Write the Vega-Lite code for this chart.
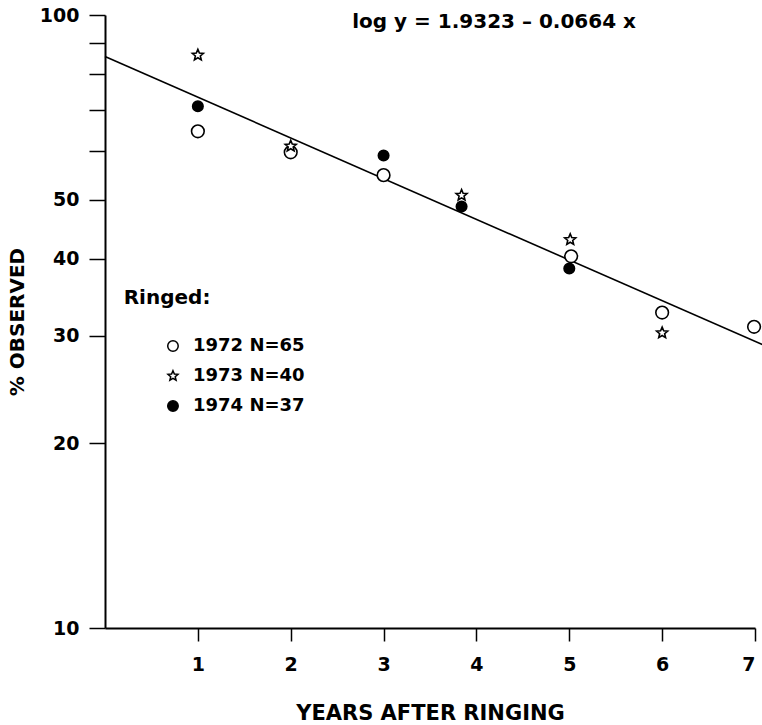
{
  "$schema": "https://vega.github.io/schema/vega-lite/v6.json",
  "autosize": {"type": "none"},
  "width": 650,
  "height": 613,
  "padding": {"left": 105, "top": 15, "right": 7, "bottom": 97},
  "background": "white",
  "config": {
    "view": {"stroke": null},
    "font": "DejaVu Sans",
    "text": {"font": "DejaVu Sans", "fontWeight": "bold", "fontSize": 18, "color": "black", "align": "left", "baseline": "middle"},
    "axis": {
      "grid": false,
      "domainColor": "black",
      "tickColor": "black",
      "labelColor": "black",
      "titleColor": "black",
      "labelFont": "DejaVu Sans",
      "titleFont": "DejaVu Sans",
      "labelFontWeight": "bold",
      "titleFontWeight": "bold"
    }
  },
  "datasets": {
    "points": [
      {"year": "1972", "years": 1, "pct": 64.6},
      {"year": "1972", "years": 2, "pct": 59.7},
      {"year": "1972", "years": 3, "pct": 54.8},
      {"year": "1972", "years": 5.02, "pct": 40.4},
      {"year": "1972", "years": 6, "pct": 32.7},
      {"year": "1972", "years": 6.99, "pct": 31.0},
      {"year": "1973", "years": 1, "pct": 86.0},
      {"year": "1973", "years": 2, "pct": 61.1},
      {"year": "1973", "years": 3.84, "pct": 50.8},
      {"year": "1973", "years": 5.01, "pct": 43.0},
      {"year": "1973", "years": 6, "pct": 30.3},
      {"year": "1974", "years": 1, "pct": 71.0},
      {"year": "1974", "years": 3, "pct": 59.0},
      {"year": "1974", "years": 3.84, "pct": 48.7},
      {"year": "1974", "years": 5, "pct": 38.6}
    ],
    "fit": [
      {"years": 0, "pct": 85.56},
      {"years": 7.08, "pct": 28.99}
    ],
    "eq": [
      {"label": "log y = 1.9323 – 0.0664  x", "years": 4.19, "pct": 97.4},
      {"label": "Ringed:", "years": 0.668, "pct": 34.54}
    ],
    "key": [
      {"year": "1972", "label": "1972      N=65", "years": 0.732, "tx": 0.948, "pct": 28.84},
      {"year": "1973", "label": "1973      N=40", "years": 0.732, "tx": 0.948, "pct": 25.77},
      {"year": "1974", "label": "1974      N=37", "years": 0.732, "tx": 0.948, "pct": 23.03}
    ]
  },
  "encoding": {
    "x": {
      "field": "years", "type": "quantitative",
      "scale": {"domain": [0, 7], "nice": false, "zero": false},
      "axis": {
        "title": "YEARS AFTER RINGING",
        "values": [1, 2, 3, 4, 5, 6, 7],
        "format": "d",
        "tickSize": 13, "tickWidth": 1.5, "domainWidth": 2,
        "labelFontSize": 19, "labelPadding": 14,
        "titleFontSize": 21, "titlePadding": 28
      }
    },
    "y": {
      "field": "pct", "type": "quantitative",
      "scale": {"type": "log", "domain": [10, 100], "nice": false},
      "axis": {
        "title": "% OBSERVED",
        "values": [10, 20, 30, 40, 50, 60, 70, 80, 90, 100],
        "labelExpr": "(datum.value >= 55 && datum.value <= 95) ? '' : datum.label",
        "format": "d",
        "tickSize": 16, "tickWidth": 1.5, "domainWidth": 2,
        "labelFontSize": 19, "labelPadding": 10,
        "titleFontSize": 20, "titlePadding": 12
      }
    },
    "shape": {
      "field": "year", "type": "nominal", "legend": null,
      "scale": {"domain": ["1972", "1973", "1974"], "range": ["circle", "M0,-1 L0.265,-0.364 L0.951,-0.309 L0.428,0.139 L0.588,0.809 L0,0.45 L-0.588,0.809 L-0.428,0.139 L-0.951,-0.309 L-0.265,-0.364 Z", "circle"]}
    },
    "fill": {
      "field": "year", "type": "nominal", "legend": null,
      "scale": {"domain": ["1972", "1973", "1974"], "range": ["white", "white", "black"]}
    }
  },
  "layer": [
    {
      "data": {"name": "fit"},
      "mark": {"type": "line", "color": "black", "strokeWidth": 1.6, "clip": false},
      "encoding": {"shape": null, "fill": null}
    },
    {
      "data": {"name": "points"},
      "mark": {"type": "point", "stroke": "black", "strokeWidth": 1.6, "opacity": 1},
      "encoding": {
        "size": {
          "field": "year", "type": "nominal", "legend": null,
          "scale": {"domain": ["1972", "1973", "1974"], "range": [160, 110, 230]}
        }
      }
    },
    {
      "data": {"name": "eq"},
      "mark": {"type": "text", "fontSize": 20, "align": "center"},
      "encoding": {"text": {"field": "label", "type": "nominal"}, "shape": null, "fill": null}
    },
    {
      "data": {"name": "key"},
      "mark": {"type": "point", "stroke": "black", "strokeWidth": 1.5, "opacity": 1, "size": 110}
    },
    {
      "data": {"name": "key"},
      "mark": {"type": "text"},
      "encoding": {
        "x": {"field": "tx", "type": "quantitative"},
        "text": {"field": "label", "type": "nominal"},
        "shape": null,
        "fill": null
      }
    }
  ]
}
